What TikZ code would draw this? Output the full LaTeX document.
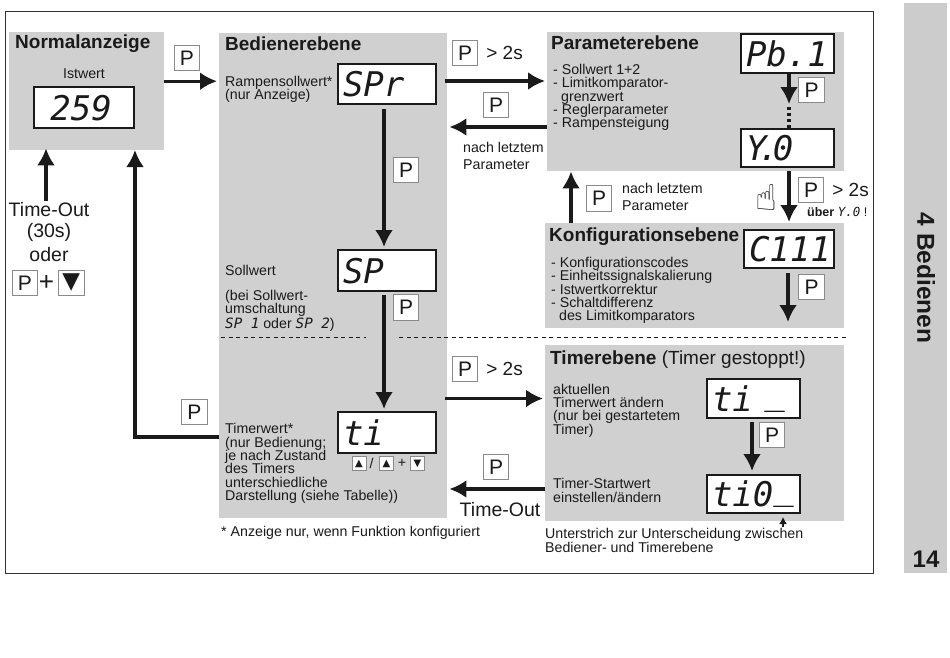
\documentclass[tikz,border=0pt]{standalone}
\usepackage{fontspec}
\setmainfont{Liberation Sans}
\newfontfamily\segfont{DejaVu Sans Mono}
\newfontfamily\symfont{DejaVu Sans}
\usetikzlibrary{arrows.meta,positioning,calc}
\definecolor{ink}{HTML}{1A1A1A}
\definecolor{panelgray}{HTML}{D0D0D0}
\definecolor{sidegray}{HTML}{CCCCCC}
\definecolor{keygray}{HTML}{8A8A8A}
\definecolor{framegray}{HTML}{333333}
\newcommand{\seg}[1]{{\segfont\itshape #1}}
\newcommand{\segbar}{\raisebox{7pt}{\_}}
\tikzset{
  every node/.style={text=ink, inner sep=0pt},
  panel/.style={fill=panelgray, anchor=north west},
  heading/.style={font=\fontsize{19}{19}\selectfont\bfseries, anchor=west},
  bodytext/.style={font=\fontsize{14.2}{13.4}\selectfont, align=left, anchor=west},
  looselabel/.style={font=\fontsize{14.2}{17}\selectfont, align=left, anchor=west},
  bigtext/.style={font=\fontsize{19.5}{19.5}\selectfont},
  display/.style={draw=ink, line width=2pt, fill=white, anchor=north west, align=left, text width=#1, inner xsep=5pt, text height=25pt, text depth=0pt, font=\fontsize{34}{34}\selectfont\segfont\itshape},
  keybox/.style={draw=keygray, fill=white, line width=.8pt, minimum size=25.5pt, font=\fontsize{21}{21}\selectfont},
  smallkey/.style={draw=keygray, fill=white, line width=.6pt, minimum size=14pt, font=\fontsize{10}{10}\selectfont\symfont},
  symkey/.style={keybox, font=\fontsize{23}{23}\selectfont\symfont},
  arrow/.style={-{Latex[length=17pt,width=18pt]}, line width=3.2pt, draw=ink},
  thinarrow/.style={-{Latex[length=7pt,width=8pt]}, line width=1.6pt, draw=ink},
  dotline/.style={line width=3.2pt, draw=ink, dash pattern=on 3pt off 3pt},
  sepline/.style={line width=1pt, draw=ink, dash pattern=on 4pt off 3.5pt},
}
\begin{document}
\begin{tikzpicture}[x=1pt,y=-1pt]
\useasboundingbox (0,0) rectangle (950,657);
\fill[white] (0,0) rectangle (950,657);
\node[draw=framegray, line width=1pt, minimum width=868pt, minimum height=562pt, anchor=north west] (frame) at (5,11) {};
\node[panel, fill=sidegray, minimum width=43pt, minimum height=570pt] (side) at (904,3) {};
\node[font=\fontsize{24.5}{24.5}\selectfont\bfseries, rotate=-90] (chap) at (926,278) {4 Bedienen};
\node[font=\fontsize{24}{24}\selectfont\bfseries] (page) at (926,559) {14};
\node[panel, minimum width=155pt, minimum height=118pt] (norm) at (9,32) {};
\node[panel, minimum width=228pt, minimum height=485pt] (bed) at (219,33) {};
\node[panel, minimum width=297pt, minimum height=139pt] (par) at (547,32) {};
\node[panel, minimum width=299pt, minimum height=105pt] (konf) at (545,223) {};
\node[panel, minimum width=299pt, minimum height=176pt] (tim) at (545,345) {};
\node[heading] (tnorm) at (15,44) {Normalanzeige};
\node[heading] (tbed) at (225,44) {Bedienerebene};
\node[heading] (tpar) at (551,43) {Parameterebene};
\node[heading] (tkonf) at (549,237) {Konfigurationsebene};
\node[heading] (ttim) at (550,360) {Timerebene \mdseries(Timer gestoppt!)};
\node[bodytext, anchor=center] (list) at (84,74) {Istwert};
\node[display=90pt, minimum height=41pt] (dist) at (33,86) {~259};
\node[display=88pt, minimum height=40pt] (dspr) at (337,63) {SPr};
\node[display=88pt, minimum height=41pt] (dsp) at (337,249) {SP};
\node[display=88pt, minimum height=41pt] (dti) at (337,411) {ti};
\node[display=83pt, minimum height=39pt] (dpb) at (740,33) {Pb.1};
\node[display=83pt, minimum height=38pt] (dyval) at (740,128) {Y\kern-8pt.\kern-6pt 0};
\node[display=80pt, minimum height=38pt] (dc) at (743,229) {C111};
\node[display=83pt, minimum height=39pt] (dtia) at (706,378) {ti~\segbar};
\node[display=83pt, minimum height=38pt] (dtib) at (706,474) {ti0\segbar};
\node[bodytext] (lspr) at (225,89.5) {Rampensollwert*\\(nur Anzeige)};
\node[bodytext] (lsp) at (225,270) {Sollwert};
\node[bodytext] (lum) at (225,310.5) {(bei Sollwert-\\umschaltung\\\seg{SP 1} oder \seg{SP 2})};
\node[bodytext] (lti) at (225,463.5) {Timerwert*\\(nur Bedienung;\\je nach Zustand\\des Timers\\unterschiedliche\\Darstellung (siehe Tabelle))};
\node[bodytext] (lfoot) at (221,533) {* Anzeige nur, wenn Funktion konfiguriert};
\node[bodytext] (lpar) at (553,97.5) {- Sollwert 1+2\\- Limitkomparator-\\\hspace*{8pt}grenzwert\\- Reglerparameter\\- Rampensteigung};
\node[bodytext] (lkonf) at (551,290.5) {- Konfigurationscodes\\- Einheitssignalskalierung\\- Istwertkorrektur\\- Schaltdifferenz\\\hspace*{8pt}des Limitkomparators};
\node[bodytext] (lakt) at (553,410.5) {aktuellen\\Timerwert ändern\\(nur bei gestartetem\\Timer)};
\node[bodytext] (lstart) at (553,490.5) {Timer-Startwert\\einstellen/ändern};
\node[bodytext] (lunter) at (545,540.5) {Unterstrich zur Unterscheidung zwischen\\Bediener- und Timerebene};
\node[looselabel] (lnach) at (463,156) {nach letztem\\Parameter};
\node[looselabel] (lnachb) at (622,196.5) {nach letztem\\Parameter};
\node[keybox] (kn) at (187,58) {P};
\node[keybox] (kv) at (406,170) {P};
\node[keybox] (kw) at (406,307.5) {P};
\node[keybox] (kr) at (465,53) {P};
\node[keybox] (kb) at (496,105) {P};
\node[keybox] (kpb) at (811.5,90) {P};
\node[keybox] (ky) at (811,190) {P};
\node[keybox] (kc) at (599,198.5) {P};
\node[keybox] (kk) at (811.5,287) {P};
\node[keybox] (kt) at (465,369) {P};
\node[keybox] (ktb) at (496,467) {P};
\node[keybox] (kti) at (772,435) {P};
\node[keybox] (kl) at (194.5,412) {P};
\node[keybox] (kp) at (25,283) {P};
\node[symkey, right=20pt of kp] (kd) {▼};
\node[font=\fontsize{26}{26}\selectfont] (plus) at (46.5,283) {+};
\node[font=\fontsize{19}{19}\selectfont, right=8pt of kr] (gr) {> 2s};
\node[font=\fontsize{19}{19}\selectfont, right=8pt of kt] (gt) {> 2s};
\node[font=\fontsize{19}{19}\selectfont, right=8pt of ky] (gy) {> 2s};
\node[font=\fontsize{12.5}{12.5}\selectfont\bfseries, anchor=west] (uber) at (807,212) {über \mdseries\seg{Y.0} !};
\node[font=\fontsize{36}{36}\selectfont\symfont] (hand) at (766,197) {☝};
\node[smallkey] (ka) at (359,463.5) {▲};
\node[bodytext, anchor=center, right=3pt of ka] (slash) {/};
\node[smallkey] (kaa) at (386.5,463.5) {▲};
\node[smallkey] (kdd) at (417.5,463.5) {▼};
\node[bodytext, anchor=center] (plusb) at (402,463.5) {+};
\node[bigtext] (tout) at (49,210) {Time-Out};
\node[bigtext] (tsec) at (49,232) {(30s)};
\node[bigtext] (toder) at (49,255) {oder};
\node[bigtext] (ttout) at (500,510) {Time-Out};
\coordinate (ret) at (135,150);
\coordinate (dots) at (789,104);
\coordinate (upx) at (571,223);
\coordinate (cend) at (788,322);
\coordinate (ustart) at (783,527);
\coordinate (sa) at (221,337);
\coordinate (sb) at (366,337);
\coordinate (sc) at (399,337);
\coordinate (sd) at (848,337);
\draw[arrow, shorten >=2pt] ([yshift=10pt]norm.east) -- ([yshift=10pt]norm.east -| bed.west);
\draw[arrow, shorten <=-2pt, shorten >=2pt] ([yshift=3pt]dspr.east -| bed.east) -- ([yshift=3pt]dspr.east -| par.west);
\draw[arrow, shorten >=2pt] ([yshift=1pt]dyval.north -| par.west) -- ([yshift=1pt]dyval.north -| bed.east);
\draw[arrow, shorten <=-2pt, shorten >=2pt] (dtia.center -| bed.east) -- (dtia.center -| tim.west);
\draw[arrow, shorten >=2pt] ([yshift=5pt]dtib.center -| tim.west) -- ([yshift=5pt]dtib.center -| bed.east);
\draw[arrow, shorten <=4pt, shorten >=2pt] ([xshift=-3pt]dspr.south) -- ([xshift=-3pt]dsp.north);
\draw[arrow, shorten <=3pt, shorten >=2pt] ([xshift=-3pt]dsp.south) -- ([xshift=-3pt]dti.north);
\draw[arrow] ([xshift=-3pt,yshift=2pt]tout.north) -- ([xshift=-3pt,yshift=2pt]tout.north |- norm.south);
\draw[arrow] ([yshift=-4.5pt]dti.center -| bed.west) -| (ret);
\draw[arrow] (dots |- dpb.south) -- (dots);
\draw[dotline] ([yshift=-3pt]dots) -- (dots |- dyval.north);
\draw[arrow, shorten >=1pt] (par.south -| dots) -- (konf.north -| dots);
\draw[arrow] (upx) -- (upx |- par.south);
\draw[arrow, shorten <=4pt] (dc.south -| cend) -- (cend);
\draw[arrow, shorten <=3pt, shorten >=3pt] ([xshift=-1.5pt]dtia.south) -- ([xshift=-1.5pt]dtib.north);
\draw[thinarrow, shorten >=3pt] (ustart) -- (dtib.south -| ustart);
\draw[sepline] (sa) -- (sb);
\draw[sepline] (sc) -- (sd);
\end{tikzpicture}
\end{document}
